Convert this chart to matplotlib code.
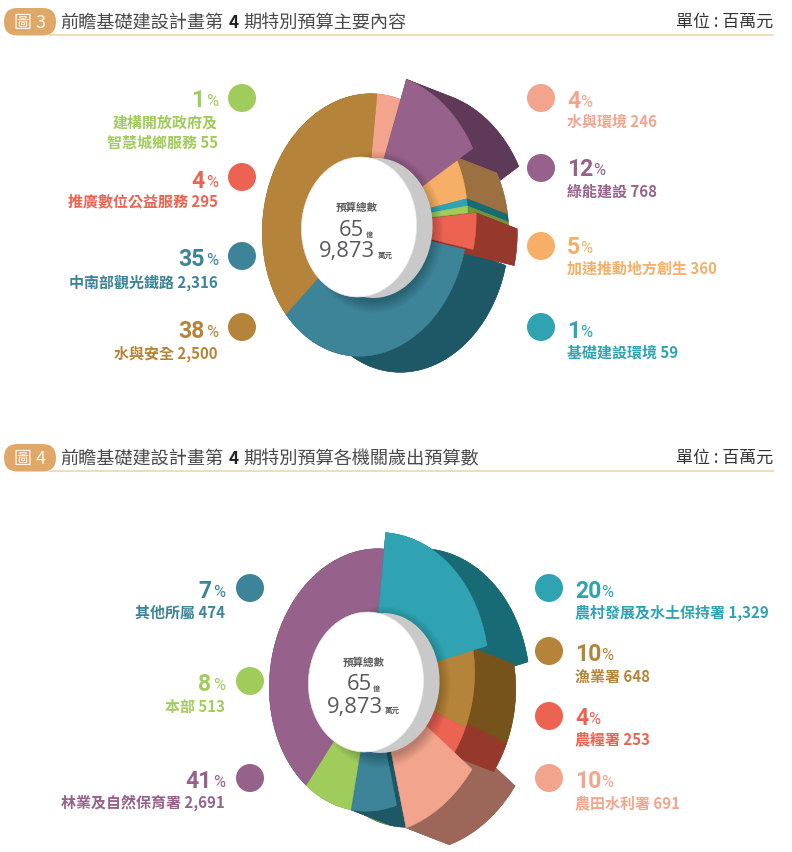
import numpy as np
import matplotlib
matplotlib.use('Agg')
import matplotlib.pyplot as plt
from matplotlib.patches import Polygon, Ellipse, Circle, FancyBboxPatch

plt.rcParams['font.family'] = ['Noto Sans CJK TC', 'DejaVu Sans']

# chart 3: budget content
names_3 = ['水與環境', '綠能建設', '加速推動地方創生', '基礎建設環境',
           '建構開放政府及\n智慧城鄉服務', '推廣數位公益服務', '中南部觀光鐵路', '水與安全']
values_3 = [246, 768, 360, 59, 55, 295, 2316, 2500]
percent_3 = [4, 12, 5, 1, 1, 4, 35, 38]
value_text_3 = ['246', '768', '360', '59', '55', '295', '2,316', '2,500']

# chart 4: budget per agency
names_4 = ['農村發展及水土保持署', '漁業署', '農糧署', '農田水利署',
           '其他所屬', '本部', '林業及自然保育署']
values_4 = [1329, 648, 253, 691, 474, 513, 2691]
percent_4 = [20, 10, 4, 10, 7, 8, 41]
value_text_4 = ['1,329', '648', '253', '691', '474', '513', '2,691']

# colours
BROWN, BROWN_D = '#b5843a', '#75531b'
BLUE, BLUE_D = '#3d8499', '#1e5766'
TEAL, TEAL_D = '#2fa3b2', '#186b75'
GREEN, GREEN_D = '#a0cc5c', '#6f9439'
RED, RED_D = '#ec6352', '#96392c'
ORANGE, ORANGE_D = '#f7ae66', '#9c7040'
PURPLE, PURPLE_D = '#96618a', '#5e3a58'
SALMON, SALMON_D = '#f3a48d', '#9c6759'

colors_3 = [SALMON, PURPLE, ORANGE, TEAL, GREEN, RED, BLUE, BROWN]
sides_3 = [SALMON_D, PURPLE_D, ORANGE_D, TEAL_D, GREEN_D, RED_D, BLUE_D, BROWN_D]
colors_4 = [TEAL, BROWN, RED, SALMON, BLUE, GREEN, PURPLE]
sides_4 = [TEAL_D, BROWN_D, RED_D, SALMON_D, BLUE_D, GREEN_D, PURPLE_D]

# slice style: radius scale, shift x, shift up, depth scale
explode_3 = [(1, 0, 0, 1), (1.2, -1, -5, 1.12), (1, 0, 0, 1), (1, 0, 0, 1),
             (1, 0, 0, 1), (1, 8.5, 0, 1), (1, 0, 0, 1), (1, 0, 0, 1)]
explode_4 = [(1.14, 0, -2, 1), (1, 0, 0, 1), (1, 0, 0, 1), (1.18, 5, 0, 1.05),
             (1, 0, 0, 1), (1, 0, 0, 1), (1, 0, 0, 1)]

# painting order of the extruded sides, back to front
side_order_3 = [7, 6, 0, 1, 2, 3, 4, 5]
side_order_4 = [6, 5, 4, 3, 0, 1, 2]

# label layout: (side, dot y, percent y, name y)
layout_3 = [('r', 98, 100, 120), ('r', 168, 168, 190), ('r', 246, 246, 267), ('r', 327, 330, 351),
            ('l', 98, 99, 131), ('l', 177, 180, 200), ('l', 256, 258, 281), ('l', 327, 330, 352)]
layout_4 = [('r', 588, 590, 611), ('r', 651, 653, 675), ('r', 716, 717, 738), ('r', 778, 780, 802),
            ('l', 588, 590, 611), ('l', 681, 683, 705), ('l', 778, 780, 801)]

fig = plt.figure(figsize=(7.92, 8.52), dpi=100)
ax = fig.add_axes([0, 0, 1, 1])
ax.set_xlim(0, 792)
ax.set_ylim(852, 0)
ax.axis('off')
renderer = fig.canvas.get_renderer()
PX = 72 / 100


def ring(phi, r, sh, cx, cy):
    # tilted ellipse, phi runs clockwise from the top
    x = cx + sh[1] + r * sh[0] * (102 * np.sin(phi) + 12 * np.cos(phi))
    y = cy - sh[2] - r * sh[0] * (131 * np.cos(phi) - 8 * np.sin(phi))
    return np.column_stack([x, y])


def pie3d(values, colors, sides, explode, side_order, cx, cy):
    edges = np.cumsum([0] + values) / sum(values) * 2 * np.pi
    for n, i in enumerate(side_order):
        depth = np.array([41, 16]) * explode[i][3]
        z = 2 + n * 0.01
        phi = np.linspace(edges[i], edges[i + 1], 60)
        arc = ring(phi, 1, explode[i], cx, cy)
        apex = ring(np.array([0.0]), 0, explode[i], cx, cy)
        wall = sides[i]
        if explode[i][0] != 1:
            wall = tuple(c * 0.88 for c in matplotlib.colors.to_rgb(sides[i]))
        for corner in (arc[0], arc[-1]):
            ax.add_patch(Polygon([apex[0], corner, corner + depth, apex[0] + depth],
                                 fc=wall, ec=wall, lw=0.3, zorder=z))
        ax.add_patch(Polygon(np.vstack([arc, (arc + depth)[::-1]]),
                             fc=sides[i], ec=sides[i], lw=0.3, zorder=z))
        ax.add_patch(Polygon(np.vstack([apex, arc]) + depth,
                             fc=sides[i], ec=sides[i], lw=0.3, zorder=z))
    # slices that stick out go on top of the flat ring
    order = sorted(range(len(values)), key=lambda i: explode[i][:3] != (1, 0, 0))
    for n, i in enumerate(order):
        phi = np.linspace(edges[i], edges[i + 1], 60)
        arc = ring(phi, 1, explode[i], cx, cy)
        apex = ring(np.array([0.0]), 0, explode[i], cx, cy)
        ax.add_patch(Polygon(np.vstack([apex, arc]), fc=colors[i], ec=colors[i],
                             lw=0.3, zorder=3 + n * 0.01))

    # hole: soft shadow, grey rim, white disc
    hx, hy = cx - 6, cy + 2
    for k in range(10):
        ax.add_patch(Ellipse((hx + 16, hy + 5), 115 + k * 2.4, 140 + k * 2.4, angle=4,
                             fc='black', ec='none', alpha=0.025, zorder=4))
    ax.add_patch(Ellipse((hx + 16, hy + 1), 115, 140, angle=4, fc='#c9c9c9', ec='none', zorder=5))
    ax.add_patch(Ellipse((hx, hy), 115, 140, angle=4, fc='white', ec='#e8e8e8', lw=0.5, zorder=6))

    grey = '#58595b'
    ax.text(hx - 2, hy - 19, '預算總數', fontsize=10.5 * PX, color=grey, weight='bold',
            ha='center', va='center', zorder=7)
    ax.text(hx + 5.5, hy + 3, '65', fontsize=22 * PX, color=grey, family='Open Sans',
            ha='right', va='center', zorder=7)
    ax.text(hx + 7, hy + 7, '億', fontsize=7 * PX, color=grey, weight='bold',
            ha='left', va='center', zorder=7)
    ax.text(hx + 16.5, hy + 25, '9,873', fontsize=22 * PX, color=grey, family='Open Sans',
            ha='right', va='center', zorder=7)
    ax.text(hx + 19, hy + 28, '萬元', fontsize=7.5 * PX, color=grey, weight='bold',
            ha='left', va='center', zorder=7)


def label(name, pct, value, color, place, dot_l, dot_r, text_l, text_r):
    side, dot_y, pct_y, name_y = place
    ax.add_patch(Circle((dot_r if side == 'r' else dot_l, dot_y), 14, fc=color, ec='none', zorder=3))
    line = name + ' ' + value
    pct_y, name_y = pct_y + 1.5, name_y + 1.5
    num = dict(fontsize=23 * PX, color=color, family='Roboto', weight='bold', va='center')
    sign = dict(fontsize=16.5 * PX, color=color, family='Roboto', va='center')
    txt = dict(fontsize=15 * PX, color=color, weight='bold', va='center', linespacing=1.3)
    if side == 'r':
        t = ax.text(text_r, pct_y, str(pct), ha='left', **num)
        w = t.get_window_extent(renderer).width
        ax.text(text_r + w, pct_y + 1, '%', ha='left', **sign)
        ax.text(text_r, name_y, line, ha='left', **txt)
    else:
        ax.text(text_l, pct_y + 1, '%', ha='right', **sign)
        ax.text(text_l - 13.5, pct_y, str(pct), ha='right', **num)
        ax.text(text_l, name_y, line, ha='right', multialignment='right', **txt)


def header(tag, before, number, after, y):
    ax.plot([50, 773], [y + 12.5, y + 12.5], color='#f2d9b9', lw=1.4, zorder=1)
    ax.add_patch(FancyBboxPatch((4, y - 14), 52, 27.5, boxstyle='round,pad=0,rounding_size=13.5',
                                fc='#e0a868', ec='none', zorder=2))
    ax.text(30, y + 1, tag, fontsize=18 * PX, color='#fdf4e8', ha='center', va='center', zorder=3)
    ax.text(60, y + 1.5, before, fontsize=18.2 * PX, color='#4a4a4a', ha='left', va='center', zorder=3)
    ax.text(229, y + 1.5, number, fontsize=17 * PX, color='#222222', weight='bold', ha='left', va='center', zorder=3)
    ax.text(243.5, y + 1.5, after, fontsize=18.2 * PX, color='#4a4a4a', ha='left', va='center', zorder=3)
    ax.text(773, y, '單位 : 百萬元', fontsize=17 * PX, color='#333333', ha='right', va='center', zorder=3)


header('圖 3', '前瞻基礎建設計畫第', '4', '期特別預算主要內容', 22)
header('圖 4', '前瞻基礎建設計畫第', '4', '期特別預算各機關歲出預算數', 458)

pie3d(values_3, colors_3, sides_3, explode_3, side_order_3, 365, 225)
pie3d(values_4, colors_4, sides_4, explode_4, side_order_4, 372, 680)

for i in range(len(names_3)):
    label(names_3[i], percent_3[i], value_text_3[i], colors_3[i], layout_3[i], 242, 541, 218, 567)
for i in range(len(names_4)):
    label(names_4[i], percent_4[i], value_text_4[i], colors_4[i], layout_4[i], 250, 549, 225, 575)

fig.savefig('out.png', dpi=100)
